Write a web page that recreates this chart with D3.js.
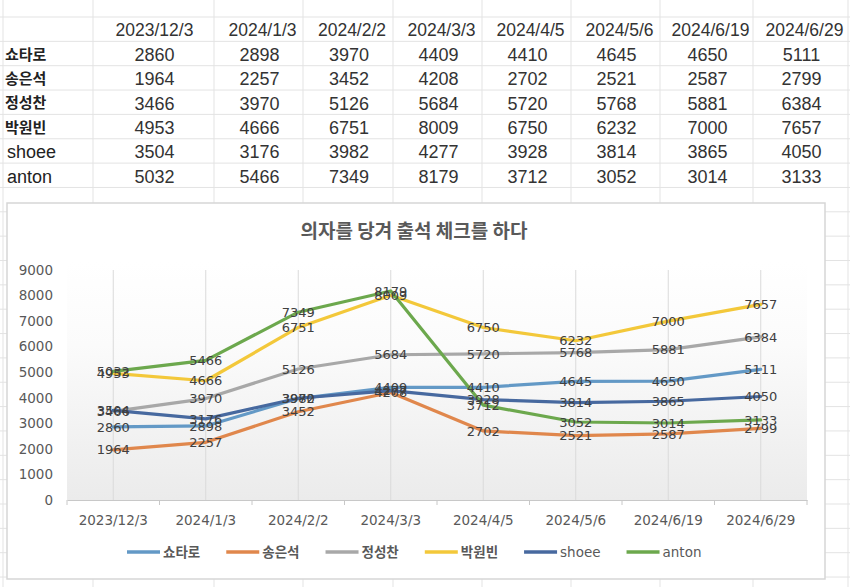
<!DOCTYPE html>
<html>
<head>
<meta charset="utf-8">
<script src="https://cdn.jsdelivr.net/npm/d3@7"></script>
<style>
  body { margin: 0; background: #fff; }
  svg { display: block; }
</style>
</head>
<body>
<div id="chart"></div>
<script>
// data
var categories = ["2023/12/3", "2024/1/3", "2024/2/2", "2024/3/3", "2024/4/5", "2024/5/6", "2024/6/19", "2024/6/29"];
var seriesNames = ["쇼타로", "송은석", "정성찬", "박원빈", "shoee", "anton"];
var shotaro      = [2860, 2898, 3970, 4409, 4410, 4645, 4650, 5111];
var songEunseok  = [1964, 2257, 3452, 4208, 2702, 2521, 2587, 2799];
var jungSungchan = [3466, 3970, 5126, 5684, 5720, 5768, 5881, 6384];
var parkWonbin   = [4953, 4666, 6751, 8009, 6750, 6232, 7000, 7657];
var shoee        = [3504, 3176, 3982, 4277, 3928, 3814, 3865, 4050];
var anton        = [5032, 5466, 7349, 8179, 3712, 3052, 3014, 3133];
var title = "의자를 당겨 출석 체크를 하다";

var colors = ["#6399c6", "#e0874c", "#a8a8a8", "#f3c83a", "#47699f", "#6ca84d"];
var series = [shotaro, songEunseok, jungSungchan, parkWonbin, shoee, anton].map(function(vals, i){
  return { name: seriesNames[i], values: vals, color: colors[i] };
});

var W = 850, H = 587;
var svg = d3.select("#chart").append("svg")
    .attr("width", W)
    .attr("height", H);

// spreadsheet grid behind everything
var colEdges = [3, 93, 214, 303, 393, 482, 571, 660, 753, 848],
    rowTop = 17,
    rowH = 24.35;

var grid = svg.append("g").attr("stroke", "#e3e3e3").attr("stroke-width", 1);
d3.range(0, 24).forEach(function(k){
  grid.append("line").attr("x1", 0).attr("x2", W)
      .attr("y1", rowTop + k * rowH).attr("y2", rowTop + k * rowH);
});
colEdges.forEach(function(x){
  grid.append("line").attr("x1", x).attr("x2", x).attr("y1", 0).attr("y2", H);
});

// table
var table = svg.append("g");
var cellCenter = function(i){ return (colEdges[i + 1] + colEdges[i + 2]) / 2 + 1; };
var numFont = "'Liberation Sans', Arial, sans-serif";
var isKorean = function(s){ return /[\uac00-\ud7a3]/.test(s); };

table.selectAll(".hdr")
    .data(categories)
  .enter().append("text")
    .attr("class", "hdr")
    .attr("x", function(d, i){ return cellCenter(i) + (i ? 3 : 0); })
    .attr("y", rowTop + rowH / 2 + 1)
    .attr("dy", ".35em")
    .attr("text-anchor", "middle")
    .style("font-family", numFont)
    .style("font-size", "17.5px")
    .style("fill", "#333")
    .text(function(d){ return d; });

series.forEach(function(s, r){
  var cy = rowTop + rowH * (r + 1) + rowH / 2 + 1;
  var korean = isKorean(s.name);
  table.append("text")
      .attr("x", korean ? 5 : 7)
      .attr("y", cy)
      .attr("dy", ".35em")
      .style("font-family", korean ? "'Noto Sans CJK KR', sans-serif" : numFont)
      .style("font-size", korean ? "15px" : "18px")
      .style("font-weight", korean ? "bold" : "normal")
      .style("fill", "#222")
      .text(s.name);

  table.selectAll(".v" + r)
      .data(s.values)
    .enter().append("text")
      .attr("x", function(d, i){ return cellCenter(i); })
      .attr("y", cy)
      .attr("dy", ".35em")
      .attr("text-anchor", "middle")
      .style("font-family", numFont)
      .style("font-size", "18px")
      .style("fill", "#333")
      .text(function(d){ return d; });
});

// chart box
var box = { x: 7, y: 203, w: 818, h: 376 };
svg.append("rect")
    .attr("x", box.x).attr("y", box.y)
    .attr("width", box.w).attr("height", box.h)
    .attr("fill", "#fff")
    .attr("stroke", "#d6d6d6")
    .attr("stroke-width", 1.5);

var chartFont = "'DejaVu Sans', sans-serif";

svg.append("text")
    .attr("x", 414)
    .attr("y", 231)
    .attr("dy", ".35em")
    .attr("text-anchor", "middle")
    .style("font-family", "'Noto Sans CJK KR', sans-serif")
    .style("font-size", "19px")
    .style("font-weight", "bold")
    .style("fill", "#595959")
    .text(title);

var plot = { left: 67, right: 807, top: 270, bottom: 500 };

var x = d3.scaleBand().domain(categories).range([plot.left, plot.right]);
var cx = function(d){ return x(d) + x.bandwidth() / 2; };
var y = d3.scaleLinear().domain([0, 9000]).range([plot.bottom, plot.top]);

var defs = svg.append("defs");
var grad = defs.append("linearGradient")
    .attr("id", "plotfill")
    .attr("x1", 0).attr("y1", 0).attr("x2", 0).attr("y2", 1);
grad.append("stop").attr("offset", "0%").attr("stop-color", "#ffffff");
grad.append("stop").attr("offset", "35%").attr("stop-color", "#fbfbfb");
grad.append("stop").attr("offset", "100%").attr("stop-color", "#ebebeb");

svg.append("rect")
    .attr("x", plot.left).attr("y", plot.top - 8)
    .attr("width", plot.right - plot.left)
    .attr("height", plot.bottom - plot.top + 8)
    .attr("fill", "url(#plotfill)");

// vertical gridlines at category centres
svg.append("g").selectAll("line")
    .data(categories)
  .enter().append("line")
    .attr("x1", cx).attr("x2", cx)
    .attr("y1", y(9000)).attr("y2", y(0))
    .attr("stroke", "#dadada")
    .attr("stroke-width", 1);

// y axis
var yAxis = svg.append("g")
    .attr("transform", "translate(" + (plot.left - 14) + ",0)")
    .call(d3.axisLeft(y).ticks(10).tickFormat(d3.format("d")).tickSize(0).tickPadding(0));
yAxis.select(".domain").remove();
yAxis.selectAll("text")
    .style("font-family", chartFont)
    .style("font-size", "13.5px")
    .style("fill", "#595959");

// x axis
var xAxis = svg.append("g")
    .attr("transform", "translate(0," + plot.bottom + ")")
    .call(d3.axisBottom(x).tickSize(0).tickPadding(15));
xAxis.select(".domain").attr("stroke", "#c8c8c8").attr("stroke-width", 1.2);
xAxis.selectAll("text")
    .style("font-family", chartFont)
    .style("font-size", "13.5px")
    .style("fill", "#595959");
xAxis.selectAll(".edge")
    .data(categories.map(function(d){ return x(d); }).concat([x.range()[1]]))
  .enter().append("line")
    .attr("class", "edge")
    .attr("x1", function(d){ return d; }).attr("x2", function(d){ return d; })
    .attr("y1", 0).attr("y2", 5)
    .attr("stroke", "#c8c8c8");

// lines
var line = d3.line()
    .x(function(d, i){ return cx(categories[i]); })
    .y(function(d){ return y(d); });

svg.append("g").selectAll("path")
    .data(series)
  .enter().append("path")
    .attr("d", function(s){ return line(s.values); })
    .attr("fill", "none")
    .attr("stroke", function(s){ return s.color; })
    .attr("stroke-width", 3.2)
    .attr("stroke-linejoin", "round")
    .attr("stroke-linecap", "round");

// data labels sit right on the points
var labels = svg.append("g");
series.forEach(function(s){
  labels.selectAll(null)
      .data(s.values)
    .enter().append("text")
      .attr("x", function(d, i){ return cx(categories[i]); })
      .attr("y", function(d){ return y(d); })
      .attr("dy", ".36em")
      .attr("text-anchor", "middle")
      .style("font-family", chartFont)
      .style("font-size", "13px")
      .style("fill", "#404040")
      .text(function(d){ return d; });
});

// legend
var legend = svg.append("g").attr("transform", "translate(0,552)");
var items = legend.selectAll(".item")
    .data(series)
  .enter().append("g")
    .attr("class", "item");
items.append("line")
    .attr("x1", 0).attr("x2", 33)
    .attr("stroke", function(s){ return s.color; })
    .attr("stroke-width", 3.5);
items.append("text")
    .attr("x", 36)
    .attr("dy", ".35em")
    .style("font-family", function(s){ return isKorean(s.name) ? "'Noto Sans CJK KR', sans-serif" : chartFont; })
    .style("font-weight", function(s){ return isKorean(s.name) ? "bold" : "normal"; })
    .style("font-size", "13.5px")
    .style("fill", "#595959")
    .text(function(s){ return s.name; });

var lx = 0, offsets = [];
items.each(function(){
  offsets.push(lx);
  lx += 36 + this.querySelector("text").getComputedTextLength() + 26;
});
var start = 127;
items.attr("transform", function(d, i){ return "translate(" + (start + offsets[i]) + ",0)"; });
</script>
</body>
</html>
